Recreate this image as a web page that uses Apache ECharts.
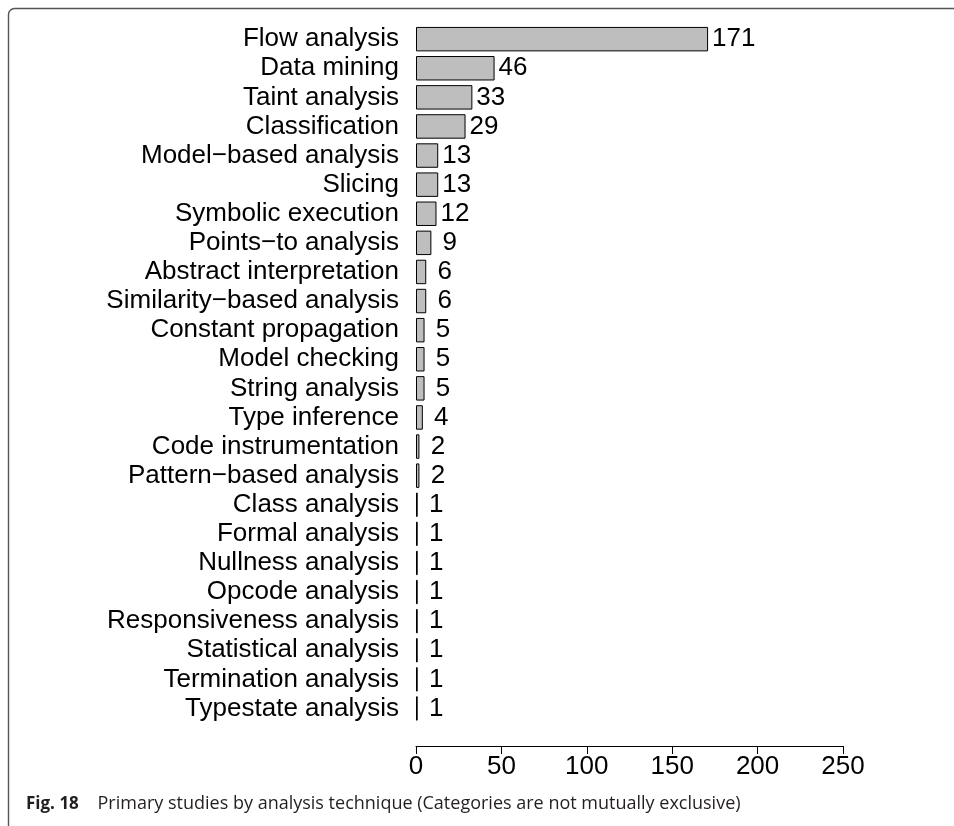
<!DOCTYPE html>
<html><head><meta charset="utf-8">
<script src="https://cdn.jsdelivr.net/npm/echarts@6/dist/echarts.min.js"></script>
<style>html,body{margin:0;padding:0;background:#fff}#c{width:954px;height:826px}</style>
</head><body><div id="c"></div>
<script>
const categories = ["Flow analysis","Data mining","Taint analysis","Classification","Model\u2212based analysis","Slicing","Symbolic execution","Points\u2212to analysis","Abstract interpretation","Similarity\u2212based analysis","Constant propagation","Model checking","String analysis","Type inference","Code instrumentation","Pattern\u2212based analysis","Class analysis","Formal analysis","Nullness analysis","Opcode analysis","Responsiveness analysis","Statistical analysis","Termination analysis","Typestate analysis"];
const counts = [171,46,33,29,13,13,12,9,6,6,5,5,5,4,2,2,1,1,1,1,1,1,1,1];
const xTicks = [0,50,100,150,200,250];

const FONT = "'Liberation Sans', Arial, Helvetica, sans-serif";
const chart = echarts.init(document.getElementById('c'), null, {renderer:'canvas'});
chart.setOption({
  animation:false,
  grid:{left:416,right:111,top:24.6,bottom:103,containLabel:false},
  xAxis:{type:'value',min:xTicks[0],max:xTicks[xTicks.length-1],interval:50,offset:23,
    axisLine:{show:true,lineStyle:{color:'#000',width:1}},
    axisTick:{show:true,length:8,inside:false,lineStyle:{color:'#000',width:1}},
    axisLabel:{fontSize:26,color:'#000',fontFamily:FONT,margin:8},
    splitLine:{show:false}},
  yAxis:{type:'category',data:categories,inverse:true,
    axisLine:{show:false},axisTick:{show:false},
    axisLabel:{interval:0,fontSize:26,color:'#000',fontFamily:FONT,margin:17}},
  series:[{type:'bar',data:counts,barCategoryGap:'16%',
    itemStyle:{color:'#bebebe',borderColor:'#000',borderWidth:1},
    label:{show:true,position:'right',distance:4,color:'#000',fontSize:26,fontFamily:FONT,
      formatter:p=>String(p.value).padStart(2,' ')}}],
  graphic:[
    {type:'rect',silent:true,shape:{x:8.5,y:8.5,width:2000,height:2000,r:[6,0,0,0]},
      style:{fill:'none',stroke:'#555',lineWidth:1.4}},
    {type:'text',left:26,top:795,silent:true,style:{
      text:'{b|Fig. 18}{s|    }Primary studies by analysis technique (Categories are not mutually exclusive)',
      fill:'#231f20',font:"18px 'Open Sans', sans-serif",
      rich:{b:{fontWeight:'bold',fontSize:17,fontFamily:"'Open Sans', sans-serif",fill:'#231f20'},
            s:{fontSize:18,fontFamily:"'Open Sans', sans-serif"}}}}
  ]
});
</script></body></html>
